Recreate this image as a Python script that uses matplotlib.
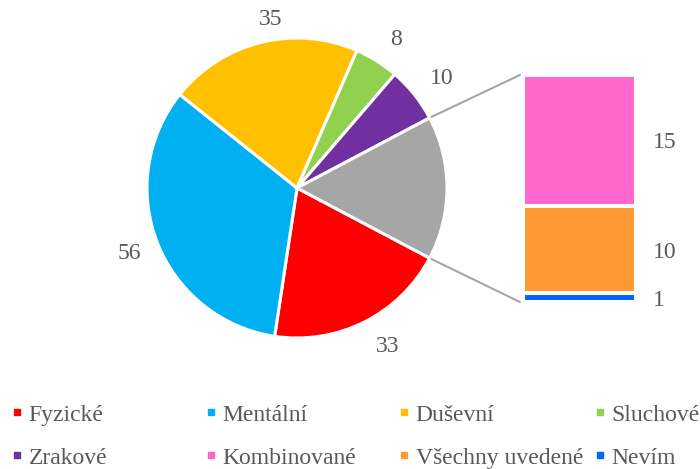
import numpy as np
import matplotlib
matplotlib.use("Agg")
import matplotlib.pyplot as plt
from matplotlib.lines import Line2D
from matplotlib.patches import ConnectionPatch

# ---- data ----
pie_labels = ["Fyzické", "Mentální", "Duševní", "Sluchové", "Zrakové", "Ostatní"]
pie_values = [33, 56, 35, 8, 10, 26]
bar_labels = ["Nevím", "Všechny uvedené", "Kombinované"]
bar_values = [1, 10, 15]
legend_labels = ["Fyzické", "Mentální", "Duševní", "Sluchové",
                 "Zrakové", "Kombinované", "Všechny uvedené", "Nevím"]

# ---- style ----
pie_colors = ["#FF0000", "#00B0F0", "#FFC000", "#92D050", "#7030A0", "#A6A6A6"]
bar_colors = ["#0066FF", "#FF9933", "#FF66CC"]
legend_colors = ["#FF0000", "#00B0F0", "#FFC000", "#92D050",
                 "#7030A0", "#FF66CC", "#FF9933", "#0066FF"]
text_color = "#595959"
FONT = "Liberation Serif"
FS = 17
W, H = 700, 469

fig = plt.figure(figsize=(7, 4.69), dpi=100)
ax = fig.add_axes([0, 0, 1, 1])
ax.set_xlim(0, W)
ax.set_ylim(0, H)
ax.set_aspect("equal")
ax.axis("off")

cx, cy, R = 297, H - 188, 150
total = sum(pie_values)
start = -(pie_values[-1] / 2) / total * 360
wedges, _ = ax.pie(pie_values, colors=pie_colors, startangle=start,
                   counterclock=False, center=(cx, cy), radius=R,
                   wedgeprops=dict(edgecolor="white", linewidth=2.2))
ax.set_xlim(0, W)
ax.set_ylim(0, H)

label_r = [1.22, 1.2, 1.14, 1.19, 1.21]
label_shift = [3, 0, -5, -1.5, -1.5]
for i, w in enumerate(wedges[:-1]):
    mid = (w.theta1 + w.theta2) / 2 + label_shift[i]
    r = R * label_r[i]
    ax.text(cx + r * np.cos(np.radians(mid)), cy + r * np.sin(np.radians(mid)),
            str(pie_values[i]), ha="center", va="center", fontsize=FS,
            family=FONT, color=text_color)

# ---- bar of pie ----
bx0, bx1, by0, by1 = 523, 636, 75, 302
bax = fig.add_axes([bx0 / W, (H - by1) / H, (bx1 - bx0) / W, (by1 - by0) / H])
bottom = 0
for v, c in zip(bar_values, bar_colors):
    bax.bar(0, v, bottom=bottom, width=1, color=c, edgecolor="white",
            linewidth=2.9, clip_on=False)
    bax.annotate(str(v), xy=(0.5, bottom + v / 2), xytext=(12, 0),
                 textcoords="offset points", ha="left", va="center_baseline",
                 fontsize=FS, family=FONT, color=text_color)
    bottom += v
bax.set_xlim(-0.5, 0.5)
bax.set_ylim(0, sum(bar_values))
bax.axis("off")

# connector lines
gw = wedges[-1]
for ang, ybar in [(gw.theta1, 0), (gw.theta2, sum(bar_values))]:
    p = (cx + (R + 2) * np.cos(np.radians(ang)), cy + (R + 2) * np.sin(np.radians(ang)))
    con = ConnectionPatch(xyA=p, coordsA=ax.transData,
                          xyB=(-0.527, ybar), coordsB=bax.transData,
                          color="#A6A6A6", linewidth=1.5)
    fig.add_artist(con)

# ---- legend ----
col_x = [17, 211, 404, 600]
row_y = [415, 458]
for i, (lab, col) in enumerate(zip(legend_labels, legend_colors)):
    r, c = divmod(i, 4)
    h = Line2D([], [], marker="s", linestyle="", markersize=5, color=col)
    hl = 0.5
    leg = fig.legend(handles=[h], labels=[lab], loc="center left",
                     bbox_to_anchor=((col_x[c] - hl * FS * 100 / 72 / 2) / W, 1 - row_y[r] / H),
                     frameon=False, borderpad=0, borderaxespad=0,
                     handlelength=hl, handletextpad=0.25,
                     prop=dict(family=FONT, size=FS))
    for t in leg.get_texts():
        t.set_color(text_color)

fig.savefig("out.png", dpi=100)
